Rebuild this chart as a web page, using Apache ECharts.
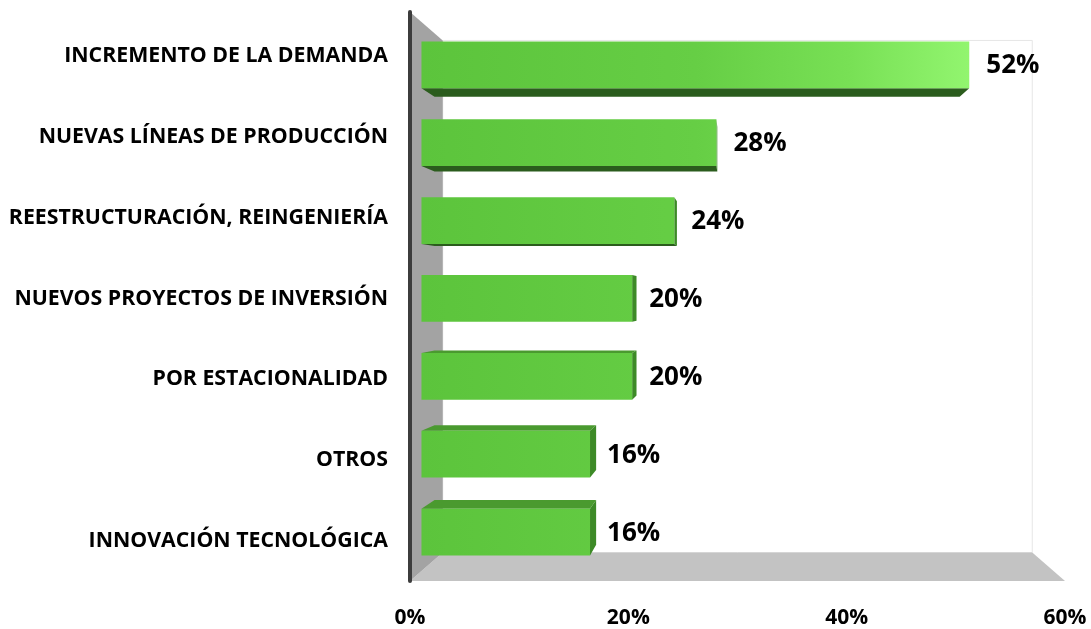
<!DOCTYPE html>
<html>
<head>
<meta charset="utf-8">
<script src="https://cdn.jsdelivr.net/npm/echarts@6/dist/echarts.min.js"></script>
<style>
  html, body { margin: 0; padding: 0; background: #fff; }
  #chart { width: 1091px; height: 629px; }
</style>
</head>
<body>
<div id="chart"></div>
<script>
// data
var categories = [
  'INCREMENTO DE LA DEMANDA',
  'NUEVAS LÍNEAS DE PRODUCCIÓN',
  'REESTRUCTURACIÓN, REINGENIERÍA',
  'NUEVOS PROYECTOS DE INVERSIÓN',
  'POR ESTACIONALIDAD',
  'OTROS',
  'INNOVACIÓN TECNOLÓGICA'
];
var values = [52, 28, 24, 20, 20, 16, 16];
var xTicks = [0, 20, 40, 60];

var FONT = '"Open Sans", "Noto Sans", sans-serif';

// fake perspective: front plane s=1, bars between S1/S2, back wall at SB
var S1 = 0.965, S2 = 0.925, SB = 0.9;

function frame(cs) {
  var T = cs.y - 4, B = cs.y + cs.height;
  return { L: cs.x, R: cs.x + cs.width, T: T, B: B,
           cx: cs.x + cs.width / 2, cy: (T + B) / 2 };
}
function proj(f, x, y, s) {
  return [f.cx + (x - f.cx) * s, f.cy + (y - f.cy) * s];
}

function renderWalls(params, api) {
  var f = frame(params.coordSys);
  var kids = [];
  // faint back wall outline
  var b0 = proj(f, f.L, f.T, SB), b1 = proj(f, f.R, f.B, SB);
  kids.push({ type: 'rect', shape: { x: b0[0], y: b0[1], width: b1[0] - b0[0], height: b1[1] - b0[1] },
    style: { fill: null, stroke: '#e6e6e6', lineWidth: 1 } });
  // floor
  kids.push({ type: 'polygon', shape: { points: [
      [f.L, f.B], [f.R, f.B], proj(f, f.R, f.B, SB), proj(f, f.L, f.B, SB)] },
    style: { fill: '#c3c3c3' } });
  // side wall
  kids.push({ type: 'polygon', shape: { points: [
      [f.L, f.T], proj(f, f.L, f.T, SB), proj(f, f.L, f.B, SB), [f.L, f.B]] },
    style: { fill: '#a3a3a3' } });
  // dark axis edge
  kids.push({ type: 'line', shape: { x1: f.L, y1: f.T, x2: f.L, y2: f.B },
    style: { stroke: '#3c3c3c', lineWidth: 4, lineCap: 'round' } });
  return { type: 'group', children: kids };
}

function renderBar(params, api) {
  var f = frame(params.coordSys);
  var i = api.value(1), v = api.value(0);
  var p0 = api.coord([0, i]), p1 = api.coord([v, i]);
  var half = api.size([0, 1])[1] * 0.3;
  var x0 = p0[0], x1 = p1[0], yt = p0[1] - half, yb = p0[1] + half;

  var gx0 = proj(f, api.coord([0, 0])[0], 0, S1)[0];
  var gx1 = proj(f, api.coord([Math.max.apply(null, values), 0])[0], 0, S1)[0];
  var grad = new echarts.graphic.LinearGradient(gx0, 0, gx1, 0, [
    { offset: 0, color: '#5cc43c' },
    { offset: 0.5, color: '#66ce45' },
    { offset: 0.78, color: '#78e055' },
    { offset: 1, color: '#92f56f' }
  ], true);

  var kids = [];
  if (yt > f.cy) {
    kids.push({ type: 'polygon', shape: { points: [
        proj(f, x0, yt, S1), proj(f, x1, yt, S1), proj(f, x1, yt, S2), proj(f, x0, yt, S2)] },
      style: { fill: '#4a9a2f' } });
  }
  if (yb < f.cy) {
    kids.push({ type: 'polygon', shape: { points: [
        proj(f, x0, yb, S1), proj(f, x1, yb, S1), proj(f, x1, yb, S2), proj(f, x0, yb, S2)] },
      style: { fill: '#2b5c1d' } });
  }
  if (x1 < f.cx) {
    kids.push({ type: 'polygon', shape: { points: [
        proj(f, x1, yt, S1), proj(f, x1, yt, S2), proj(f, x1, yb, S2), proj(f, x1, yb, S1)] },
      style: { fill: '#3d8a27' } });
  }
  var a = proj(f, x0, yt, S1), b = proj(f, x1, yb, S1);
  kids.push({ type: 'rect', shape: { x: a[0], y: a[1], width: b[0] - a[0], height: b[1] - a[1] },
    style: { fill: grad } });
  kids.push({ type: 'text', style: {
      text: v + '%', x: b[0] + 17, y: (a[1] + b[1]) / 2 + 1,
      verticalAlign: 'middle', align: 'left',
      font: 'bold 26px ' + FONT, fill: '#000' } });
  return { type: 'group', children: kids };
}

var chart = echarts.init(document.getElementById('chart'));
chart.setOption({
  animation: false,
  backgroundColor: '#fff',
  grid: { left: 410, right: 26, top: 16, bottom: 44 },
  xAxis: {
    type: 'value',
    min: xTicks[0], max: xTicks[xTicks.length - 1], interval: xTicks[1] - xTicks[0],
    axisLine: { show: false }, axisTick: { show: false }, splitLine: { show: false },
    axisLabel: { formatter: '{value}%', margin: 27, color: '#000',
      fontFamily: FONT, fontWeight: 'bold', fontSize: 21 }
  },
  yAxis: {
    type: 'category', inverse: true, data: categories,
    axisLine: { show: false }, axisTick: { show: false },
    axisLabel: { margin: 22, color: '#000', fontFamily: FONT, fontWeight: 'bold', fontSize: 21.3 }
  },
  series: [
    { type: 'custom', z: 1, silent: true, renderItem: renderWalls, data: [[0, 0]] },
    { type: 'custom', z: 2, silent: true, renderItem: renderBar,
      encode: { x: 0, y: 1 },
      data: values.map(function (v, i) { return [v, i]; }) }
  ]
});
</script>
</body>
</html>
